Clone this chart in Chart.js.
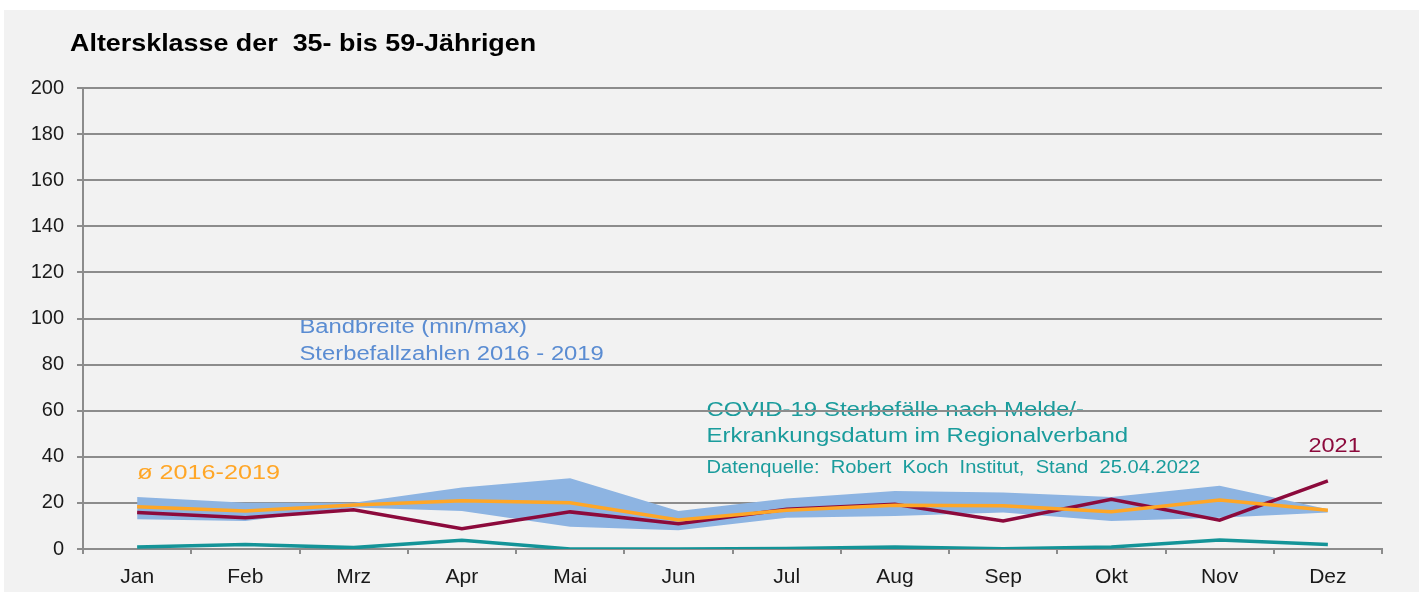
<!DOCTYPE html>
<html>
<head>
<meta charset="utf-8">
<script src="https://cdn.jsdelivr.net/npm/chart.js@4.4.0/dist/chart.umd.min.js"></script>
<style>
  body { margin:0; background:#ffffff; }
  #panel { position:absolute; left:4px; top:10px; width:1415px; height:582px; background:#f2f2f2; }
  #wrap { position:absolute; left:0; top:0; width:1423px; height:594px; }
</style>
</head>
<body>
<div id="panel"></div>
<div id="wrap"><canvas id="chart"></canvas></div>
<script>
// Monate
var monate = ['Jan','Feb','Mrz','Apr','Mai','Jun','Jul','Aug','Sep','Okt','Nov','Dez'];
// Bandbreite 2016-2019
var band_max = [22.6, 20.1, 20.1, 26.7, 30.7, 16.5, 21.9, 25.2, 24.5, 22.6, 27.4, 17.2];
var band_min = [12.9, 12.2, 18.0, 16.5, 9.6, 8.1, 13.6, 14.3, 15.8, 12.2, 13.6, 15.8];
// Durchschnitt 2016-2019
var mittel = [18.3, 16.5, 19.1, 20.9, 20.1, 12.6, 16.8, 19.0, 18.8, 16.2, 21.3, 16.8];
// Jahr 2021
var jahr2021 = [15.8, 13.6, 17.0, 8.8, 16.1, 11.0, 17.2, 19.4, 12.2, 21.6, 12.5, 29.6];
// COVID-19 Sterbefaelle
var covid = [0.9, 2.0, 0.6, 3.8, 0.0, 0.0, 0.2, 0.9, 0.1, 0.9, 3.9, 2.0];

var y_ticks = [0,20,40,60,80,100,120,140,160,180,200];

var c_band = 'rgb(141,180,226)';
var c_mittel = 'rgb(255,166,38)';
var c_2021 = 'rgb(140,10,60)';
var c_covid = 'rgb(20,148,152)';
var c_grid = '#8c8c8c';
var schrift = '"Liberation Sans", Arial, sans-serif';

// Beschriftungen (Position in Daten-Koordinaten), sx = horizontale Dehnung
var texte = [
  {t:'Bandbreite (min/max)', x:1.5, y:95.9, col:'rgb(90,140,210)', size:20, sx:1.19},
  {t:'Sterbefallzahlen 2016 - 2019', x:1.5, y:84.6, col:'rgb(90,140,210)', size:20, sx:1.19},
  {t:'COVID-19 Sterbefälle nach Melde/-', x:5.26, y:59.9, col:'rgb(26,156,156)', size:20, sx:1.2},
  {t:'Erkrankungsdatum im Regionalverband', x:5.26, y:48.6, col:'rgb(26,156,156)', size:20, sx:1.2},
  {t:'Datenquelle:  Robert  Koch  Institut,  Stand  25.04.2022', x:5.26, y:35.1, col:'rgb(26,156,156)', size:19, sx:1.06},
  {t:'2021', x:10.82, y:44.7, col:c_2021, size:21, sx:1.12},
  {t:'ø 2016-2019', x:0, y:33, col:c_mittel, size:21, sx:1.2}
];

var textPlugin = {
  id: 'texte',
  beforeDraw: function(chart){
    var ctx = chart.ctx;
    var xs = chart.scales.x, ys = chart.scales.y;
    ctx.save();
    ctx.textBaseline = 'middle';
    ctx.textAlign = 'left';
    // Titel
    ctx.save();
    ctx.fillStyle = '#000000';
    ctx.font = 'bold 24px ' + schrift;
    ctx.translate(70, 44);
    ctx.scale(1.12, 1);
    ctx.fillText('Altersklasse der  35- bis 59-Jährigen', 0, 0);
    ctx.restore();
    for (var i = 0; i < texte.length; i++) {
      var a = texte[i];
      ctx.save();
      ctx.font = a.size + 'px ' + schrift;
      ctx.fillStyle = a.col;
      ctx.translate(xs.getPixelForValue(a.x), ys.getPixelForValue(a.y));
      ctx.scale(a.sx, 1);
      ctx.fillText(a.t, 0, 0);
      ctx.restore();
    }
    ctx.restore();
  }
};

var ctx = document.getElementById('chart').getContext('2d');
var myChart = new Chart(ctx, {
  type: 'line',
  data: {
    labels: monate,
    datasets: [
      {label:'max', data:band_max, borderWidth:0, pointRadius:0, fill:'+1', backgroundColor:c_band, borderColor:c_band, order:5},
      {label:'min', data:band_min, borderWidth:0, pointRadius:0, fill:false, borderColor:c_band, order:6},
      {label:'covid', data:covid, borderColor:c_covid, borderWidth:3.5, pointRadius:0, fill:false, order:3},
      {label:'2021', data:jahr2021, borderColor:c_2021, borderWidth:3.5, pointRadius:0, fill:false, order:2},
      {label:'mittel', data:mittel, borderColor:c_mittel, borderWidth:3.5, pointRadius:0, fill:false, order:1}
    ]
  },
  options: {
    responsive: true,
    maintainAspectRatio: false,
    animation: false,
    layout: { padding: {left:0, right:41, top:88, bottom:0} },
    plugins: { legend:{display:false}, title:{display:false}, tooltip:{enabled:false} },
    scales: {
      x: {
        offset: true,
        grid: { display:true, drawOnChartArea:false, offset:true, tickLength:5, color:c_grid, lineWidth:2 },
        border: { display:true, color:c_grid, width:2 },
        ticks: { color:'#1a1a1a', padding:11, font:{size:21, family:schrift}, maxRotation:0 },
        afterFit: function(s){ s.height = 45; }
      },
      y: {
        min: 0, max: 200,
        afterBuildTicks: function(s){ s.ticks = y_ticks.map(function(v){ return {value:v}; }); },
        grid: { color:c_grid, lineWidth:2, tickLength:6 },
        border: { display:true, color:c_grid, width:2 },
        ticks: { color:'#1a1a1a', padding:13, font:{size:20, family:schrift} },
        afterFit: function(s){ s.width = 83; }
      }
    }
  },
  plugins: [textPlugin]
});
</script>
</body>
</html>
